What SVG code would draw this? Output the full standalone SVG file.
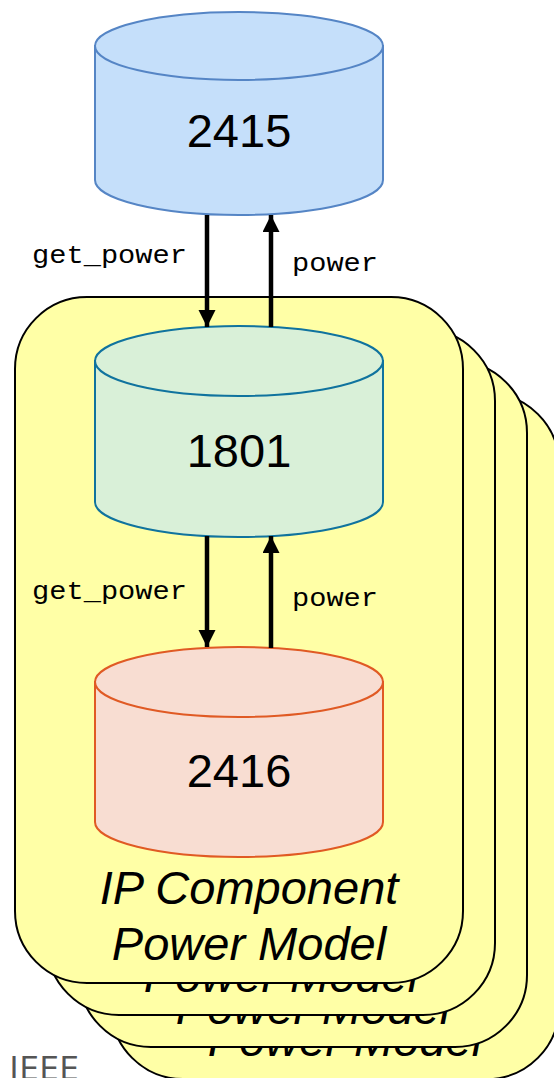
<svg xmlns="http://www.w3.org/2000/svg" width="554" height="1078" viewBox="0 0 554 1078">
  <style>
    .card { fill: #ffffa6; stroke: #000; stroke-width: 2; }
    .cardtxt { font-family: "Liberation Sans", Arial, sans-serif; font-style: italic; font-size: 47px; fill: #000; text-anchor: middle; }
    .num { font-family: "Liberation Sans", Arial, sans-serif; font-size: 47px; fill: #000; text-anchor: middle; }
    .lbl { font-family: "Liberation Mono", "Courier New", monospace; font-size: 26px; fill: #000; }
    .arrow { stroke: #000; stroke-width: 4.5; fill: none; }
    .blue { fill: #c5dffa; stroke: #5585c5; stroke-width: 2; }
    .green { fill: #d9f0d8; stroke: #10739e; stroke-width: 2; }
    .orange { fill: #f8ddd2; stroke: #e05a24; stroke-width: 2; }
  </style>
  <defs>
    <marker id="head" markerUnits="userSpaceOnUse" markerWidth="20" markerHeight="20" refX="17" refY="8.5" orient="auto">
      <path d="M0,0 L17,8.5 L0,17 Z" fill="#000"/>
    </marker>
  </defs>

  <rect width="554" height="1078" fill="#fff"/>

  <!-- stacked component cards, back to front -->
  <g id="card4">
    <rect class="card" x="111" y="393" width="448" height="686" rx="72" ry="72"/>
    <text class="cardtxt" x="345" y="1000">IP Component</text>
    <text class="cardtxt" x="345" y="1056">Power Model</text>
  </g>
  <g id="card3">
    <rect class="card" x="79" y="361" width="448" height="686" rx="72" ry="72"/>
    <text class="cardtxt" x="313" y="968">IP Component</text>
    <text class="cardtxt" x="313" y="1024">Power Model</text>
  </g>
  <g id="card2">
    <rect class="card" x="47" y="329" width="448" height="686" rx="72" ry="72"/>
    <text class="cardtxt" x="281" y="936">IP Component</text>
    <text class="cardtxt" x="281" y="992">Power Model</text>
  </g>
  <g id="card1">
    <rect class="card" x="15" y="297" width="448" height="686" rx="72" ry="72"/>
    <text class="cardtxt" x="249" y="904">IP Component</text>
    <text class="cardtxt" x="249" y="960">Power Model</text>
  </g>

  <!-- storage nodes -->
  <g id="node2415">
    <path class="blue" d="M95,46 L95,180 A144,35 0 0 0 383,180 L383,46 Z"/>
    <ellipse class="blue" cx="239" cy="46" rx="144" ry="34"/>
    <text class="num" x="239" y="147">2415</text>
  </g>
  <g id="node1801">
    <path class="green" d="M95,361 L95,502 A144,35 0 0 0 383,502 L383,361 Z"/>
    <ellipse class="green" cx="239" cy="361" rx="144" ry="35"/>
    <text class="num" x="239" y="467">1801</text>
  </g>
  <g id="node2416">
    <path class="orange" d="M95,682 L95,822 A144,35 0 0 0 383,822 L383,682 Z"/>
    <ellipse class="orange" cx="239" cy="682" rx="144" ry="35"/>
    <text class="num" x="239" y="787">2416</text>
  </g>

  <!-- connectors -->
  <g id="connectors">
    <line class="arrow" x1="207" y1="215" x2="207" y2="327" marker-end="url(#head)"/>
    <line class="arrow" x1="271" y1="327" x2="271" y2="215" marker-end="url(#head)"/>
    <line class="arrow" x1="207" y1="536" x2="207" y2="647" marker-end="url(#head)"/>
    <line class="arrow" x1="271" y1="648" x2="271" y2="536" marker-end="url(#head)"/>
    <text class="lbl" x="32" y="263" textLength="155" lengthAdjust="spacingAndGlyphs">get_power</text>
    <text class="lbl" x="292" y="271" textLength="86" lengthAdjust="spacingAndGlyphs">power</text>
    <text class="lbl" x="32" y="599" textLength="155" lengthAdjust="spacingAndGlyphs">get_power</text>
    <text class="lbl" x="292" y="606" textLength="86" lengthAdjust="spacingAndGlyphs">power</text>
  </g>

  <text x="9" y="1080" font-family="'Open Sans', 'Liberation Sans', sans-serif" font-size="33" fill="#555" textLength="70" lengthAdjust="spacingAndGlyphs">IEEE</text>
</svg>
